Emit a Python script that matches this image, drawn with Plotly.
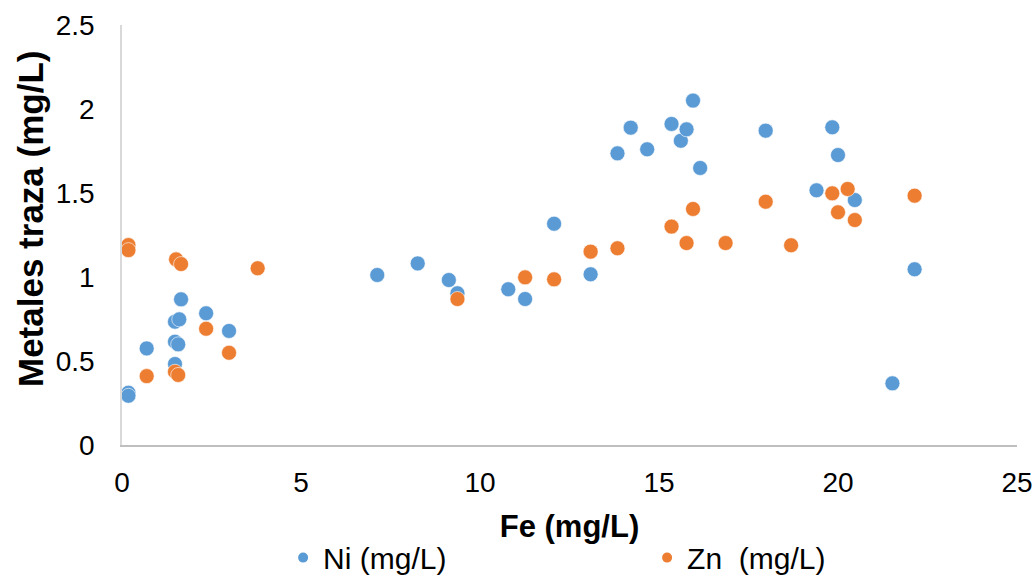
import plotly.graph_objects as go

# Ni series
ni_fe = [0.18, 0.18, 0.69, 1.48, 1.48, 1.48, 1.60, 1.57, 1.65, 2.35, 2.99,
         7.13, 8.26, 9.13, 9.37, 10.79, 11.26, 12.07, 13.09, 13.84, 14.21,
         14.67, 15.35, 15.61, 15.77, 15.95, 16.15, 17.98, 19.40, 19.84,
         20.00, 20.47, 21.52, 22.14]
ni_val = [0.311, 0.293, 0.575, 0.734, 0.615, 0.482, 0.748, 0.599, 0.867, 0.784, 0.679,
          1.012, 1.081, 0.982, 0.903, 0.927, 0.869, 1.317, 1.016, 1.736, 1.889,
          1.760, 1.911, 1.811, 1.879, 2.050, 1.649, 1.871, 1.516, 1.891,
          1.726, 1.458, 0.367, 1.046]

# Zn series
zn_fe = [0.18, 0.18, 0.69, 1.48, 1.51, 1.57, 1.65, 2.35, 2.99, 3.79,
         9.37, 11.26, 12.07, 13.09, 13.84, 15.35, 15.77, 15.95, 16.86,
         17.98, 18.69, 19.84, 20.00, 20.27, 20.47, 22.14]
zn_val = [1.19, 1.16, 0.41, 0.436, 1.105, 0.417, 1.077, 0.692, 0.549, 1.052,
          0.869, 0.998, 0.986, 1.151, 1.171, 1.300, 1.202, 1.405, 1.202,
          1.448, 1.189, 1.498, 1.385, 1.524, 1.339, 1.484]

series_names = ["Ni (mg/L)", "Zn  (mg/L)"]
x_title = "Fe (mg/L)"
y_title = "Metales traza (mg/L)"
x_ticks = [0, 5, 10, 15, 20, 25]
y_ticks = [0, 0.5, 1, 1.5, 2, 2.5]

FONT = "Liberation Sans, Arial, sans-serif"

fig = go.Figure()
fig.add_trace(go.Scatter(x=ni_fe, y=ni_val, mode="markers", name=series_names[0],
                         marker=dict(color="#5B9BD5", size=15,
                                     line=dict(color="white", width=0.6))))
fig.add_trace(go.Scatter(x=zn_fe, y=zn_val, mode="markers", name=series_names[1],
                         marker=dict(color="#ED7D31", size=15,
                                     line=dict(color="white", width=0.6))))

fig.update_layout(
    width=1032, height=583,
    margin=dict(l=122, r=15, t=25, b=138, autoexpand=False),
    paper_bgcolor="white", plot_bgcolor="white",
    font=dict(family=FONT, color="black", size=28),
    showlegend=True,
    legend=dict(orientation="h", x=0.18, xanchor="left", y=-0.33, yanchor="bottom",
                font=dict(size=30), entrywidth=319, entrywidthmode="pixels",
                itemsizing="constant"),
    xaxis=dict(range=[0, 25.0001], tickvals=x_ticks, ticktext=[str(v) for v in x_ticks],
               showgrid=False, zeroline=False,
               showline=True, linecolor="#BFBFBF", linewidth=1.5,
               ticks="", ticklabelstandoff=12, ticklabeloverflow="allow",
               title=dict(text="<b>" + x_title + "</b>", font=dict(size=31), standoff=18)),
    yaxis=dict(range=[0, 2.5], tickvals=y_ticks, ticktext=[f"{v:g}" for v in y_ticks],
               showgrid=False, zeroline=False,
               showline=True, linecolor="#D9D9D9", linewidth=1.5,
               ticks="", ticklabelstandoff=20),
    annotations=[dict(text="<b>" + y_title + "</b>", xref="paper", yref="paper",
                      x=(30 - 122) / 895, y=(445 - 219) / 420,
                      xanchor="center", yanchor="middle", textangle=-90,
                      showarrow=False, font=dict(size=35))],
)

fig.write_html("out.html")
